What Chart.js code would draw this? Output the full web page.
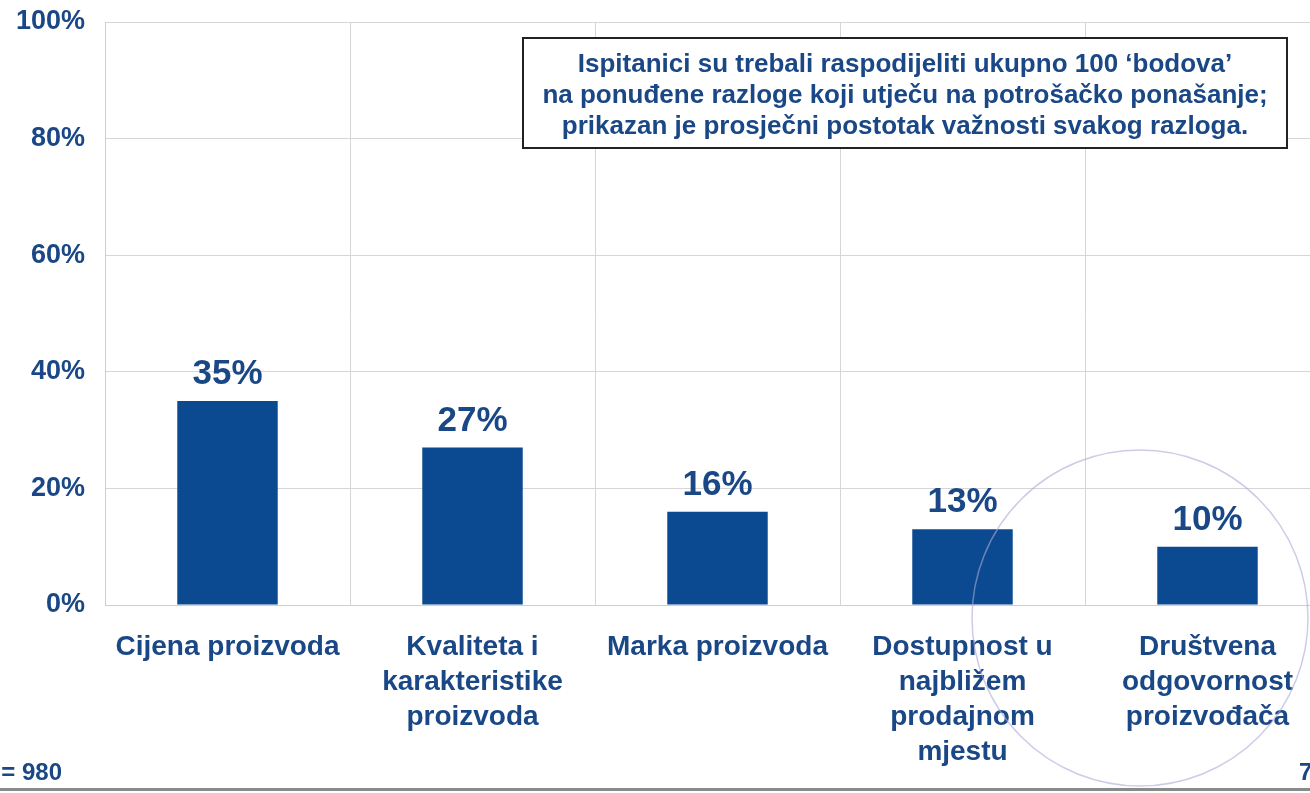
<!DOCTYPE html>
<html>
<head>
<meta charset="utf-8">
<script src="https://cdn.jsdelivr.net/npm/chart.js@4.4.1/dist/chart.umd.min.js"></script>
<style>
  html, body { margin: 0; padding: 0; background: #fff; overflow: hidden; }
  #wrap { width: 1330px; height: 793px; }
</style>
</head>
<body>
<div id="wrap"><canvas id="chart" width="1330" height="793"></canvas></div>
<script>
const categories = [
  "Cijena proizvoda",
  ["Kvaliteta i", "karakteristike", "proizvoda"],
  "Marka proizvoda",
  ["Dostupnost u", "najbližem", "prodajnom", "mjestu"],
  ["Društvena", "odgovornost", "proizvođača"]
];
const importance = [35, 27, 16, 13, 10];
const yTicks = [0, 20, 40, 60, 80, 100];
const noteLines = [
  "Ispitanici su trebali raspodijeliti ukupno 100 \u2018bodova\u2019",
  "na ponuđene razloge koji utječu na potrošačko ponašanje;",
  "prikazan je prosječni postotak važnosti svakog razloga."
];
const sampleNote = "N = 980";
const pageNo = "7";

const blue = "#0b4a90";
const textBlue = "#1a4785";
const fontFam = "'Liberation Sans', Arial, sans-serif";

// labels above bars + the note box + slide decorations
const extras = {
  id: "extras",
  afterDatasetsDraw(chart) {
    const ctx = chart.ctx;
    const meta = chart.getDatasetMeta(0);
    ctx.save();
    ctx.fillStyle = textBlue;
    ctx.font = "bold 35px " + fontFam;
    ctx.textAlign = "center";
    ctx.textBaseline = "alphabetic";
    meta.data.forEach((bar, i) => {
      ctx.fillText(importance[i] + "%", bar.x, bar.y - 17);
    });
    ctx.restore();
  },
  afterDraw(chart) {
    const ctx = chart.ctx;
    ctx.save();
    // note box
    ctx.fillStyle = "#fff";
    ctx.fillRect(523, 38, 764, 110);
    ctx.strokeStyle = "#222";
    ctx.lineWidth = 2;
    ctx.strokeRect(523, 38, 764, 110);
    ctx.fillStyle = textBlue;
    ctx.font = "bold 26px " + fontFam;
    ctx.textAlign = "center";
    ctx.textBaseline = "alphabetic";
    noteLines.forEach((t, i) => ctx.fillText(t, 905, 72 + i * 31));

    // faint circle
    ctx.beginPath();
    ctx.arc(1140, 618, 168, 0, Math.PI * 2);
    ctx.strokeStyle = "rgba(170,170,215,0.6)";
    ctx.lineWidth = 1.5;
    ctx.stroke();

    // footer
    ctx.font = "bold 24px " + fontFam;
    ctx.textAlign = "right";
    ctx.fillText(sampleNote, 62, 780);
    ctx.textAlign = "left";
    ctx.fillText(pageNo, 1299, 780);
    ctx.fillStyle = "#8a8a8a";
    ctx.fillRect(0, 788, 1330, 3);
    ctx.restore();
  }
};

new Chart(document.getElementById("chart"), {
  type: "bar",
  data: {
    labels: categories,
    datasets: [{
      data: importance,
      backgroundColor: blue,
      borderWidth: 0,
      categoryPercentage: 1,
      barPercentage: 0.41
    }]
  },
  options: {
    responsive: false,
    animation: false,
    layout: { padding: { top: 22, right: 0, bottom: 0, left: 0 } },
    plugins: {
      legend: { display: false },
      tooltip: { enabled: false }
    },
    scales: {
      x: {
        grid: { color: "#d6d6d6", drawTicks: false, offset: true },
        border: { color: "#cfcfcf" },
        ticks: {
          color: textBlue,
          font: { family: fontFam, size: 28, weight: "bold", lineHeight: 1.25 },
          padding: 25,
          maxRotation: 0,
          autoSkip: false
        },
        afterFit(scale) {
          scale.height = 188;
          scale.paddingLeft = 0;
          scale.paddingRight = 0;
        }
      },
      y: {
        min: 0,
        max: 100,
        afterBuildTicks(scale) { scale.ticks = yTicks.map(v => ({ value: v })); },
        grid: { color: "#d6d6d6", drawTicks: false },
        border: { color: "#cfcfcf" },
        ticks: {
          color: textBlue,
          font: { family: fontFam, size: 27, weight: "bold" },
          padding: 20,
          callback: v => v + "%"
        },
        afterFit(scale) {
          scale.width = 105;
          scale.paddingTop = 0;
          scale.paddingBottom = 0;
        }
      }
    }
  },
  plugins: [extras]
});
</script>
</body>
</html>
